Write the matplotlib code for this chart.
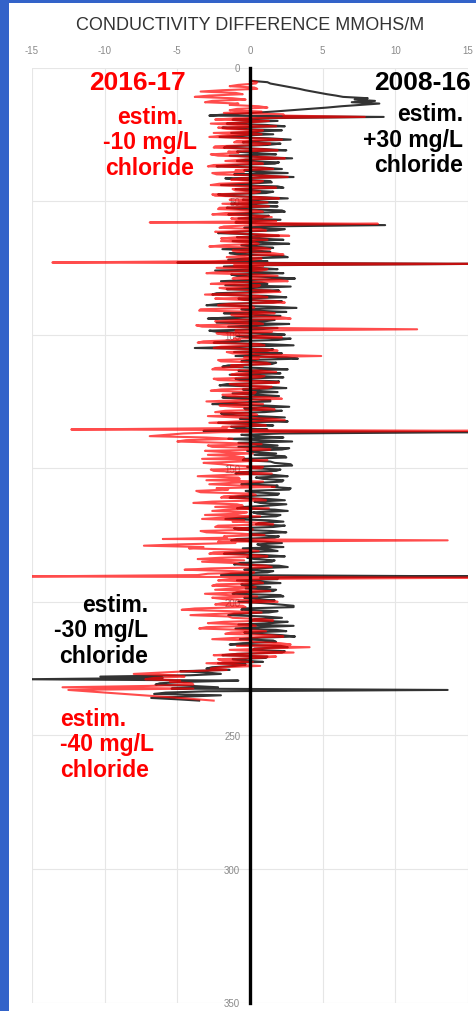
import matplotlib.pyplot as plt
import numpy as np
from matplotlib.patches import Rectangle

plt.rcParams['font.family'] = ['Liberation Sans', 'DejaVu Sans']
plt.rcParams['axes.unicode_minus'] = False

# depth sampled every 0.5 unit, 5 .. 237
depth = np.arange(5, 237.5, 0.5)

# conductivity difference, 2008-16 (black trace), one row = 10 depth units
cond_2008_16 = [
    0.1, 1.2, 1.4, 1.9, 2.4, 2.9, 3.4, 3.8, 4.3, 4.8, 5.3, 5.9, 6.4, 8.1, 7.2, 8.6, 7.0, 8.9, 7.6, 6.3,
    5.3, 4.1, 3.0, 1.6, 0.2, -1.5, -2.8, 9.2, 0.5, -1.2, 1.9, -0.4, -1.6, 1.1, 2.4, -1.9, -0.8, 2.2, 0.6, -1.3,
    1.6, -0.7, -2.1, 1.3, 2.8, 0.2, -0.5, 2.1, 1.2, -1.6, -1.8, 0.9, 2.5, -0.9, 0.3, 1.8, -1.4, 0.6, 2.9, -0.3,
    -0.9, 2.0, 1.7, -1.2, -2.3, 1.0, 2.2, -0.4, 0.4, 2.6, -1.1, 0.8, 3.0, -1.7, -0.6, 1.4, 1.5, -0.2, -2.0, 1.9,
    2.3, -1.0, -0.3, 1.6, 1.1, -2.2, -1.7, 0.7, 2.6, -0.5, 0.2, 1.9, -1.3, 0.4, 1.9, -1.6, -0.7, 2.2, 2.4, -0.2,
    -1.5, 1.3, 0.9, -0.8, 2.1, 0.3, -1.0, 1.7, 9.3, 0.8, -0.4, 2.4, 1.8, -1.1, -2.2, 0.5, 2.0, -0.9, 0.6, 2.3,
    -1.2, 0.9, 2.7, -0.6, 0.1, 1.6, -1.9, 0.4, 1.4, -1.4, -0.8, 2.2, 2.6, -0.3, -1.5, 1.2, -5.0, 16.0, 1.0, -1.8,
    0.5, 1.9, -2.4, 0.3, 2.3, -1.3, -0.9, 1.5, 3.1, 0.2, -2.0, 0.8, 1.2, -1.7, 2.8, 0.1, -1.6, 2.0, 0.7, -2.3,
    -2.6, 1.1, 2.5, -0.8, -0.4, 2.2, 1.6, -2.1, -3.0, 1.3, 3.2, -0.6, 0.2, 2.5, -1.8, 0.4, 2.1, -1.2, -2.9, 1.7,
    1.0, -2.3, 2.7, 0.5, -1.5, 1.9, 0.6, -2.8, -2.2, 1.2, 2.4, -0.9, -0.2, 2.8, 1.9, -1.4, -2.5, 0.9, 3.0, -0.7,
    -3.8, 1.6, 1.2, -1.1, 2.2, 0.4, -1.0, 2.5, 3.3, -0.2, -0.6, 1.8, 1.5, -1.5, -1.9, 0.7, 2.6, -0.8, 0.3, 2.1,
    -1.4, 0.8, 2.3, -1.0, -0.7, 2.0, 1.8, -1.6, -2.1, 1.1, 2.5, -0.5, 0.4, 1.9, -1.2, 0.6, 2.0, -1.9, -0.5, 1.4,
    1.4, -1.1, -2.6, 0.9, 2.7, -0.4, -0.3, 2.2, 1.0, -2.0, -1.8, 0.6, 2.4, -0.7, 0.8, 2.6, -2.2, 0.2, 1.6, -1.3,
    -0.9, 1.2, -3.2, 16.0, 2.1, -0.6, 0.4, 2.3, -1.5, 0.6, 2.9, -0.8, 0.6, 1.9, -0.8, 2.7, 2.2, -0.2, 0.3, 1.8,
    0.3, 2.4, 2.5, -0.4, -0.5, 1.4, 1.7, 2.8, 2.9, -0.2, 0.2, 2.1, 1.8, -0.7, -1.0, 1.6, 2.6, 0.4, 0.9, 2.3,
    2.2, 0.5, -0.6, 1.9, 1.5, 2.8, 2.7, -0.3, 0.1, 2.0, 1.9, -0.8, -1.4, 1.2, 2.4, 0.3, 0.7, 2.5, 1.3, -0.4,
    -0.9, 1.7, 2.6, 0.2, 0.5, 2.1, 1.8, -0.6, -1.7, 1.3, 2.3, 0.6, 0.4, 2.4, 1.6, -1.1, -0.8, 1.5, 2.5, 0.1,
    0.2, 2.0, 1.7, -0.9, -1.3, 1.1, 2.2, 0.5, 0.8, 2.3, -0.5, 1.4, 1.9, -0.6, -1.8, 1.0, 2.4, -0.2, 0.3, 1.7,
    1.5, -0.7, -1.1, 2.0, 2.6, 0.3, -0.4, 1.6, 1.2, -1.3, -2.0, 16.0, 0.7, 1.9, -0.9, 0.8, 2.1, -0.6, -0.3, 1.4,
    -0.3, 1.8, 1.6, -0.9, -1.2, 2.1, 2.3, -0.4, 0.5, 1.7, -0.8, 0.9, 2.0, 3.0, 3.0, -0.5, -0.6, 1.9, 1.3, -1.1,
    -1.5, 1.0, 2.2, 0.3, 0.1, 2.6, 1.4, -0.8, 3.0, 0.6, -1.0, 1.8, 2.5, -0.4, 0.6, 2.2, 3.1, 0.4, -0.7, 1.6,
    1.8, -0.5, -1.4, 2.1, 2.6, 0.3, 0.2, 2.4, 2.2, -0.9, -1.9, 1.2, 1.1, -1.2, -0.5, 0.9, -2.2, -0.3, -1.0, -2.6,
    -3.0, -1.4, -4.8, -2.9, -2.0, -4.1, -10.3, -6.0, -15.5, -0.8, -4.5, -6.2, -6.5, -4.0, -2.2, -5.4, 13.6, -3.0, -5.8, -6.6,
    -2.0, -4.5, -6.8, -5.0, -3.5,
]

# conductivity difference, 2016-17 (red trace)
cond_2016_17 = [
    0.0, 0.5, 0.4, -0.8, -1.4, 0.3, 0.5, -1.9, -3.4, -1.0, -0.5, -2.8, -3.8, -1.2, -0.3, -2.6, -3.1, -0.8, -1.4, 0.6,
    1.2, -0.9, -1.4, 0.8, -1.8, 2.3, 2.3, 7.9, -1.0, -2.4, 1.3, 0.2, -2.7, -0.9, 1.8, -2.2, -1.6, 0.9, 0.4, -2.5,
    0.8, -1.9, -2.8, 0.4, 2.2, -0.9, -1.1, 1.4, 0.5, -2.4, -2.5, 0.6, 1.9, -1.5, -0.8, -2.7, -2.2, 1.0, 2.4, -0.6,
    -1.7, 0.3, 0.9, -2.5, -2.9, 0.8, 1.6, -1.0, -0.4, -2.6, -2.3, 1.1, 2.6, -0.7, -1.3, 0.9, 0.6, -2.1, -2.7, 0.2,
    1.8, -1.2, -1.0, 0.7, 0.3, -2.6, -2.4, 0.5, 2.0, -1.4, -0.6, 1.2, -1.9, -0.3, 1.3, -2.1, -2.2, 0.4, 0.9, -1.7,
    -2.6, 0.6, 1.5, -1.3, -0.8, 1.8, -6.9, 8.8, 0.4, -1.8, -2.1, 0.7, 1.1, -2.4, -1.4, 0.9, 2.7, -0.8, -2.0, 1.2,
    -2.0, 0.3, 0.6, -1.8, -2.8, 0.9, 1.4, -1.2, -0.9, 1.6, 2.3, -0.5, -1.6, 0.8, 0.2, -2.4, -13.6, 16.0, -1.1, 0.9,
    -2.3, 1.2, 0.8, -1.9, -3.0, 0.4, 1.9, -0.6, -1.2, 2.0, 2.6, -1.4, -2.7, 0.7, 0.5, -2.1, -1.5, 1.3, 2.1, -0.8,
    -3.1, 0.6, 1.2, -2.4, -0.6, 1.8, 2.4, -1.5, -2.2, 0.2, 0.3, -3.4, -3.5, 0.9, 1.7, -1.3, -1.0, 2.2, 2.8, -0.9,
    -2.4, 0.5, 0.9, -3.7, -3.3, 1.2, 11.5, -1.0, 1.5, -2.3, -1.8, 0.8, 2.2, -1.1, -0.7, -3.2, -3.6, 0.6, 1.0, -2.0,
    -2.5, 0.9, 1.9, -1.6, -1.2, 1.5, 4.9, -0.4, 0.6, -2.2, -2.0, 1.1, 1.4, -1.3, -0.5, -2.4, -2.6, 0.8, 1.8, -0.9,
    -1.3, 1.0, 0.7, -2.5, -2.2, 0.9, 2.0, -1.4, -0.8, 1.5, 1.2, -2.0, -2.7, 0.4, 0.3, -1.9, -1.5, 1.3, 2.2, -0.6,
    -3.0, -0.2, 0.9, -2.1, -1.1, 1.2, 1.7, -1.7, -2.4, 0.1, 0.5, -2.9, -0.9, 1.6, 2.4, -1.0, -2.8, 0.3, 1.1, -1.9,
    -1.6, -12.3, 16.0, -2.0, -4.6, -5.8, -6.9, -3.0, -1.2, -4.4, -5.0, -1.8, 0.8, -2.9, -2.6, 0.5, 1.4, -3.1, -1.7, 0.2,
    -2.9, -1.0, -0.4, -3.3, 1.2, -0.6, -3.2, -2.0, -1.1, 0.9, 0.8, -2.7, -2.5, -0.3, 1.5, -1.6, -3.6, -0.8, -0.7, -3.0,
    0.9, -1.3, -2.8, -0.5, 1.7, -2.3, -1.5, -3.7, -3.4, 0.1, 0.4, -1.8, -2.0, 0.6, 1.1, -2.6, -3.9, -0.9, -0.5, -2.4,
    1.3, -1.5, -2.6, -0.2, -0.8, -3.1, 0.7, -1.9, -3.3, -0.4, -1.2, 1.0, 1.6, -2.2, -2.4, 0.1, 0.2, -3.4, -3.0, -0.6,
    1.0, -1.8, -1.6, -6.0, 13.6, -2.2, -1.0, -4.8, -7.3, -3.2, -4.2, -0.7, 0.6, -2.5, -2.8, 0.3, 1.2, -2.0, -3.6, -0.4,
    -3.3, -1.0, -0.6, 1.1, 1.5, -2.7, -4.5, -1.2, 0.3, -2.9, -3.6, -15.5, 16.0, -1.4, -2.2, 0.6, 0.9, -2.3, -2.6, 0.4,
    -1.0, -2.4, 1.4, -0.8, -3.1, -1.5, 0.5, -2.6, -1.8, 0.7, 1.9, -1.9, -2.4, -0.5, -0.3, -3.8, -4.7, -1.4, 0.8, -2.1,
    -4.1, -1.5, -1.2, 0.9, 1.6, -1.8, -2.9, -0.2, 0.4, -3.0, -3.5, -0.6, 1.1, -1.3, -1.7, 1.5, 2.3, -1.0, -2.6, 0.1,
    0.2, 2.1, 2.8, -0.9, 4.1, 1.2, -1.4, 0.5, 3.0, -0.8, -2.5, 1.8, 0.6, -2.2, -1.9, 0.2, -3.0, -1.1, 0.7, -2.0,
    -2.7, -1.6, -4.3, -6.1, -8.0, -5.2, -4.5, -6.6, -7.2, -4.8, -5.5, -4.0, -3.9, -7.0, -12.9, -3.9, -12.5, -11.2, -9.9, -8.7,
    -7.4, -6.1, -4.8, -3.6, -2.5,
]

x_ticks = [-15, -10, -5, 0, 5, 10, 15]
y_ticks = [0, 50, 100, 150, 200, 250, 300, 350]

W, H = 477, 1012
fig = plt.figure(figsize=(W / 100, H / 100), dpi=100)
fig.patch.set_facecolor('#3363c9')
# white slide panel
fig.add_artist(Rectangle((9 / W, 0), 1 - 9 / W, 1 - 4 / H, transform=fig.transFigure,
                         facecolor='white', edgecolor='none', zorder=0))

ax = fig.add_axes([32 / W, 8.5 / H, 436 / W, 935 / H])
ax.set_facecolor('white')

ax.plot(cond_2008_16, depth, color='black', lw=1.5, alpha=0.8, zorder=2)
ax.plot(cond_2016_17, depth, color='#ff0000', lw=1.5, alpha=0.7, zorder=3)

ax.set_xlim(-15, 15)
ax.set_ylim(350, 0)
ax.set_xticks(x_ticks)
ax.set_yticks(y_ticks)
ax.xaxis.tick_top()
ax.tick_params(axis='both', length=0, labelsize=7, labelcolor='#8a8a8a')
ax.tick_params(axis='x', pad=9)
ax.tick_params(axis='y', pad=7)
ax.grid(True, color='#e6e6e6', lw=0.8, zorder=0)
ax.set_axisbelow(True)

for s in ['top', 'right', 'bottom']:
    ax.spines[s].set_visible(False)
ax.spines['left'].set_position(('data', 0))
ax.spines['left'].set_linewidth(2.4)
ax.spines['left'].set_color('black')
ax.spines['left'].set_zorder(4)

fig.text(250 / W, 1 - 25 / H, 'CONDUCTIVITY DIFFERENCE MMOHS/M', ha='center', va='center',
         fontsize=13, color='#333333')

def put(x, y, s, color, size, ha='center'):
    fig.text(x / W, 1 - y / H, s, ha=ha, va='center', fontsize=size, color=color,
             fontweight='bold', multialignment=ha, linespacing=1.15)

put(137, 83, '2016-17', '#ff0000', 19)
put(150, 143, 'estim.\n-10 mg/L\nchloride', '#ff0000', 16.5)
put(471, 83, '2008-16', 'black', 19, ha='right')
put(463, 140, 'estim.\n+30 mg/L\nchloride', 'black', 16.5, ha='right')
put(148, 631, 'estim.\n-30 mg/L\nchloride', 'black', 16.5, ha='right')
put(60, 745, 'estim.\n-40 mg/L\nchloride', '#ff0000', 16.5, ha='left')

fig.savefig('out.png', dpi=100)
